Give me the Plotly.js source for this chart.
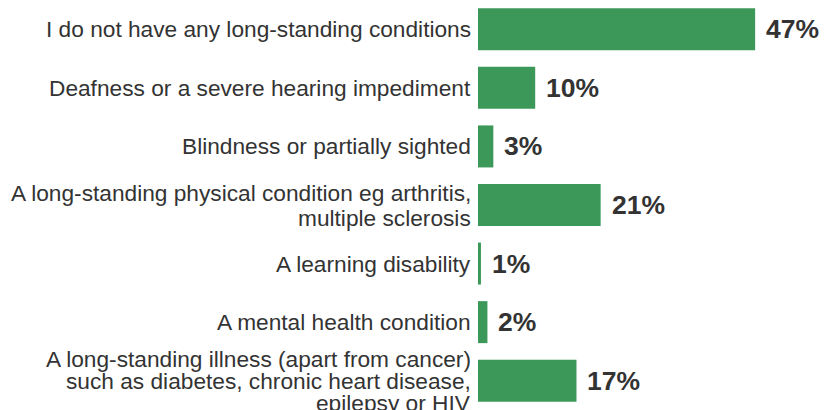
<!DOCTYPE html>
<html>
<head>
<meta charset="utf-8">
<script src="https://cdn.plot.ly/plotly-3.0.1.min.js"></script>
<style>html,body{margin:0;padding:0;background:#fff;}#chart{width:824px;height:410px;}</style>
</head>
<body>
<div id="chart"></div>
<script>
const categories = [
  "I do not have any long-standing conditions",
  "Deafness or a severe hearing impediment",
  "Blindness or partially sighted",
  "A long-standing physical condition eg arthritis,<br>multiple sclerosis",
  "A learning disability",
  "A mental health condition",
  "A long-standing illness (apart from cancer)<br>such as diabetes, chronic heart disease,<br>epilepsy or HIV"
];
const values = [47, 9.7, 2.6, 20.8, 0.5, 1.6, 16.7];
const valueLabels = ["47%", "10%", "3%", "21%", "1%", "2%", "17%"];

const GREEN = "#3b9858";
const TEXT = "#333333";
const FONT = "Liberation Sans, Arial, sans-serif";

const annotations = [];
categories.forEach((cat, ci) => {
  const lines = cat.split("<br>");
  const n = lines.length;
  const spacing = n >= 3 ? 22 : 25;
  lines.forEach((ln, li) => {
    annotations.push({
      xref: "paper", yref: "y", x: 0, y: cat,
      xanchor: "right", yanchor: "middle",
      xshift: -5, yshift: -(li - (n - 1) / 2) * spacing,
      text: ln, showarrow: false,
      font: {family: FONT, size: 22.7, color: TEXT}
    });
  });
  annotations.push({
    xref: "x", yref: "y", x: values[ci], y: cat,
    xanchor: "left", yanchor: "middle", xshift: 9,
    text: "<b>" + valueLabels[ci] + "</b>", showarrow: false,
    font: {family: FONT, size: 26.5, color: TEXT}
  });
});

Plotly.newPlot("chart", [{
  type: "bar", orientation: "h",
  x: values, y: categories,
  marker: {color: GREEN, line: {width: 0}},
  hoverinfo: "none"
}], {
  width: 824, height: 410,
  margin: {l: 478, r: 4, t: 0, b: 0, pad: 0},
  paper_bgcolor: "#fff", plot_bgcolor: "#fff",
  bargap: 0.283,
  showlegend: false,
  xaxis: {range: [0, 58], visible: false, fixedrange: true, automargin: false},
  yaxis: {type: "category", categoryarray: categories, range: [6.5, -0.5], automargin: false,
          showticklabels: false, showgrid: false, zeroline: false, showline: false, ticks: ""},
  annotations: annotations
}, {staticPlot: true, displayModeBar: false});
</script>
</body>
</html>
